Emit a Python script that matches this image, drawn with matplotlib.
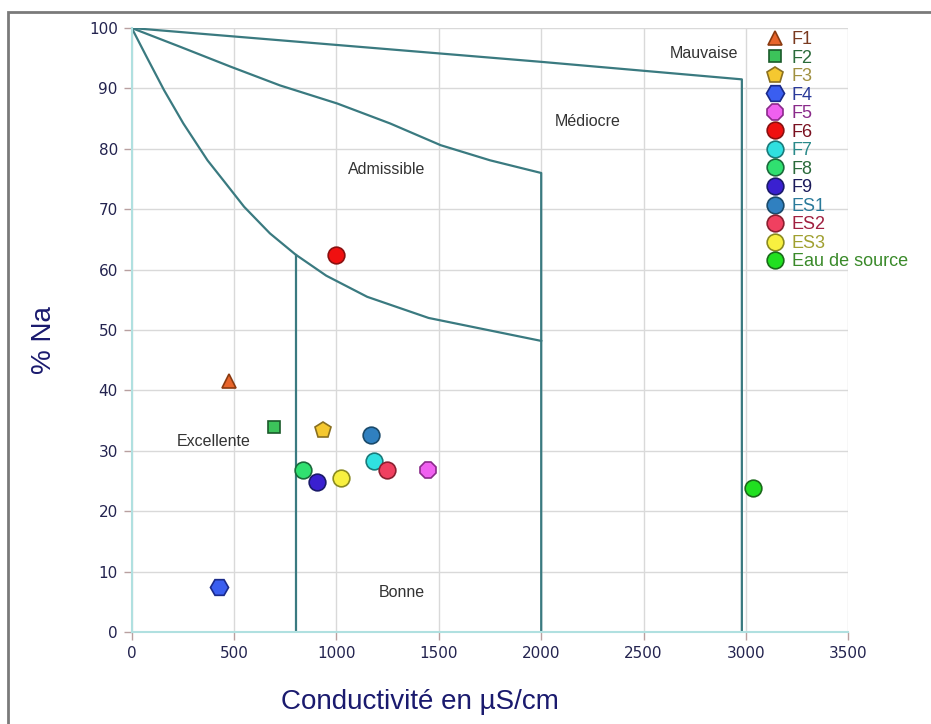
import matplotlib
matplotlib.use("Agg")
import matplotlib.pyplot as plt
from matplotlib.patches import Rectangle

# --- sample points: conductivity (uS/cm) and sodium percentage ---
labels = ["F1", "F2", "F3", "F4", "F5", "F6", "F7", "F8", "F9",
          "ES1", "ES2", "ES3", "Eau de source"]
conductivity = [477, 697, 936, 425, 1449, 996, 1183, 835, 903,
                1167, 1245, 1022, 3035]
na_percent = [41.5, 33.9, 33.4, 7.5, 26.8, 62.4, 28.4, 26.9, 24.8,
              32.6, 26.8, 25.5, 23.8]

markers = ["^", "s", "p", "H", "8", "o", "o", "o", "o", "o", "o", "o", "o"]
sizes = [10, 8, 12, 13, 13, 12, 12, 12, 12, 12, 12, 12, 12]
fills = ["#e8642a", "#3cc35a", "#f5c830", "#3a5ef0", "#f060f0", "#f01010",
         "#30e0e0", "#30e070", "#3a20d0", "#3080c0", "#f04060", "#f8f040",
         "#20e020"]
edges = ["#8a3a10", "#1a5a2a", "#8a7020", "#1a2a8a", "#8a2a8a", "#8a1010",
         "#1a7a7a", "#1a6a3a", "#1a1a6a", "#1a4a6a", "#8a2030", "#8a8a20",
         "#1a6a1a"]
text_colors = ["#7a3a20", "#2a6a3a", "#a09040", "#2a3a9a", "#8a2a8a",
               "#7a1020", "#2a8a8a", "#2a6a3a", "#1a1a5a", "#2a7a9a",
               "#a02040", "#a0a030", "#3a8a2a"]

# --- Wilcox class boundaries ---
c1_x = [0, 73, 158, 252, 370, 447, 549, 675, 800, 950, 1150, 1450, 2000]
c1_y = [100, 95.2, 89.7, 84.2, 78.1, 74.8, 70.4, 66, 62.5, 59, 55.5, 52, 48.2]
c2_x = [0, 236, 483, 724, 1004, 1262, 1509, 1750, 2000, 2000]
c2_y = [100, 96.9, 93.6, 90.5, 87.5, 84.2, 80.6, 78.1, 76, 0]
c3_x = [0, 500, 1000, 1500, 2000, 2980, 2980]
c3_y = [100, 98.6, 97.2, 95.8, 94.4, 91.5, 0]
v1_x = [800, 800]
v1_y = [62.5, 0]

zones = ["Mauvaise", "Médiocre", "Admissible", "Excellente", "Bonne"]
zone_x = [2797, 2226, 1243, 402, 1319]
zone_y = [95.7, 84.6, 76.6, 31.5, 6.5]

fig = plt.figure(figsize=(9.31, 7.24), dpi=100)
ax = fig.add_axes([0.1415, 0.127, 0.7697, 0.8343])

line_kw = dict(color="#3a7a80", lw=1.6, zorder=2)
ax.plot(c1_x, c1_y, **line_kw)
ax.plot(c2_x, c2_y, **line_kw)
ax.plot(c3_x, c3_y, **line_kw)
ax.plot(v1_x, v1_y, **line_kw)

for i, lab in enumerate(labels):
    ax.plot(conductivity[i], na_percent[i], linestyle="none",
            marker=markers[i], markersize=sizes[i],
            markerfacecolor=fills[i], markeredgecolor=edges[i],
            markeredgewidth=1.2, label=lab, zorder=3)

for name, zx, zy in zip(zones, zone_x, zone_y):
    ax.text(zx, zy, name, ha="center", va="center", fontsize=11.5,
            family="Liberation Sans", color="#333333")

ax.set_xlim(0, 3500)
ax.set_ylim(0, 100)
ax.set_xticks(range(0, 3501, 500))
ax.set_yticks(range(0, 101, 10))
ax.grid(True, color="#d9d9d9", lw=1, zorder=0)
ax.set_axisbelow(True)

for side in ["top", "right"]:
    ax.spines[side].set_visible(False)
for side in ["left", "bottom"]:
    ax.spines[side].set_color("#b0e0e0")
    ax.spines[side].set_linewidth(1.5)

ax.tick_params(direction="out", length=6, width=1, color="#b8a0a0",
               labelsize=11, labelcolor="#23234f", pad=4)
for t in ax.get_xticklabels() + ax.get_yticklabels():
    t.set_fontweight("medium")

ax.set_xlabel("Conductivité en µS/cm", fontsize=20, family="Liberation Sans",
              color="#1a1a6e")
ax.set_ylabel("% Na", fontsize=20, family="Liberation Sans", color="#1a1a6e")
ax.xaxis.set_label_coords(0.402, -0.094)
ax.yaxis.set_label_coords(-0.104, 0.484)

leg = ax.legend(loc="upper left", bbox_to_anchor=(0.872, 1.007), frameon=False,
                prop={"family": "Liberation Sans", "size": 13},
                labelspacing=0.085, handletextpad=0.35, handlelength=1.2,
                borderaxespad=0)
for txt, col in zip(leg.get_texts(), text_colors):
    txt.set_color(col)

# grey frame around the whole chart
fig.patches.append(Rectangle((8 / 931, -0.05), 1.0, 1 - 12 / 724 + 0.05,
                             transform=fig.transFigure, fill=False,
                             edgecolor="#7a7a7a", lw=2))

fig.savefig("out.png", dpi=100)
